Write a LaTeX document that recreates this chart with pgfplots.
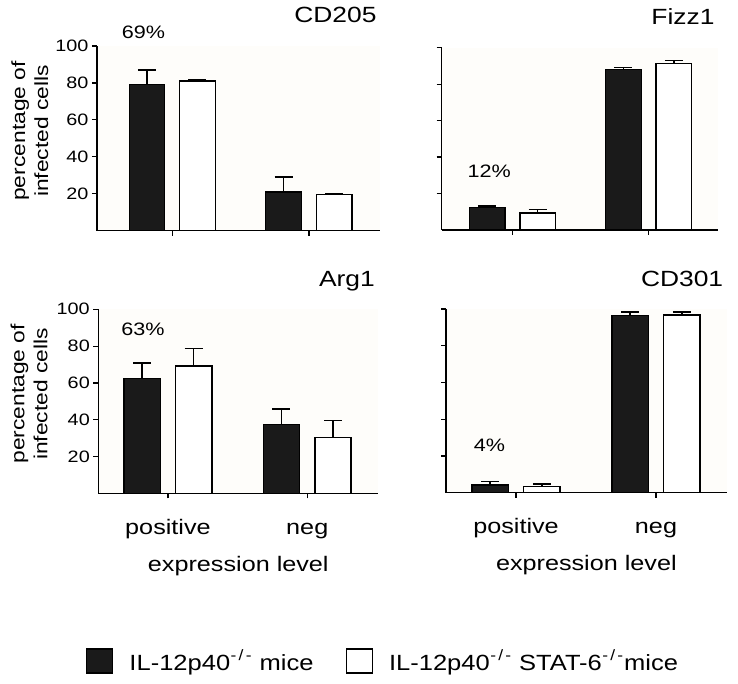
\documentclass[border=0pt]{standalone}
\usepackage{pgfplots}
\pgfplotsset{compat=1.18}
\usepackage{fontspec}
\setmainfont[FakeStretch=1.2]{Liberation Sans}
\newfontfamily\legfont[FakeStretch=1.16]{Liberation Sans}
\definecolor{barblack}{HTML}{1A1A1A}
\definecolor{panelbg}{HTML}{FEFDFA}
\newcommand{\ko}{\raisebox{0.42em}{\fontsize{15}{15}\selectfont\kern0.5pt-\kern2.2pt/\kern2.2pt-\kern1pt}}

\pgfplotsset{
  panel/.style={
    scale only axis,
    axis x line*=bottom, axis y line*=left,
    axis line style={line width=1.5pt},
    ymin=0, ymax=100,
    ytick={20,40,60,80,100},
    xtick={0,1},
    tick align=outside,
    major tick length=5pt,
    tick style={line width=1.2pt, black},
    /pgf/number format/assume math mode=true,
    yticklabel style={font=\fontsize{16.5}{18}\selectfont},
    xticklabel style={font=\fontsize{21}{24}\selectfont, anchor=base, yshift=-36pt},
    title style={at={(axis description cs:1,1)}, anchor=base east, yshift=17pt,
      font=\fontsize{22}{26}\selectfont},
    xlabel style={at={(axis description cs:0.5,0)}, anchor=base, yshift=-78pt,
      font=\fontsize{21}{24}\selectfont},
    ylabel style={anchor=center, align=center, font=\fontsize{19}{23}\selectfont},
    axis background/.style={fill=panelbg},
    clip=false,
    legend image code/.code={\draw[#1,line width=1.5pt] (0pt,-12pt) rectangle (26pt,12pt);},
  },
  blackbar/.style={ybar, bar width=0.26, bar shift=0pt, fill=barblack, draw=black,
    line width=1.2pt,
    error bars/.cd, y dir=plus, y explicit,
    error bar style={line width=1.5pt, black},
    error mark options={rotate=90, mark size=9pt, line width=1.5pt, black}},
  whitebar/.style={ybar, bar width=0.26, bar shift=0pt, fill=white, draw=black,
    line width=1.5pt,
    error bars/.cd, y dir=plus, y explicit,
    error bar style={line width=1.5pt, black},
    error mark options={rotate=90, mark size=9pt, line width=1.5pt, black}},
}

\begin{document}
\begin{tikzpicture}
\useasboundingbox (0pt,0pt) rectangle (738pt,683pt);

% CD205
\begin{axis}[panel, at={(97pt,452.3pt)}, anchor=south west,
  width=283pt, height=184.7pt, xmin=-0.55, xmax=1.52,
  xticklabels={,}, title={CD205},
  ylabel={percentage of\\infected cells},
  ylabel style={at={(axis description cs:-0.237,0.54)}}]
\addplot[blackbar] coordinates {(-0.185,79.2) +- (0,7.8) (0.815,21.0) +- (0,8.0)};
\addplot[whitebar] coordinates {(0.185,81.0) +- (0,0.6) (1.185,19.6) +- (0,0.6)};
\node[font=\fontsize{18}{20}\selectfont] at (axis cs:-0.21,107.3) {69\%};
\end{axis}

% Fizz1
\begin{axis}[panel, at={(441.7pt,453pt)}, anchor=south west,
  width=276.3pt, height=182.3pt, xmin=-0.52, xmax=1.51,
  xticklabels={,}, yticklabel=\empty, title={Fizz1}]
\addplot[blackbar] coordinates {(-0.185,12.4) +- (0,0.9) (0.815,88.2) +- (0,0.8)};
\addplot[whitebar] coordinates {(0.185,9.3) +- (0,2.0) (1.185,91.2) +- (0,1.8)};
\node[font=\fontsize{18}{20}\selectfont] at (axis cs:-0.17,32.2) {12\%};
\end{axis}

% Arg1
\begin{axis}[panel, at={(98.3pt,189.7pt)}, anchor=south west,
  width=280pt, height=184pt, xmin=-0.50, xmax=1.51,
  xticklabels={positive,neg}, xlabel={expression level}, title={Arg1},
  ylabel={percentage of\\infected cells},
  ylabel style={at={(axis description cs:-0.2475,0.54)}},
  legend style={at={(axis description cs:1.017,-0.911)}, anchor=center,
    draw=none, fill=none, legend columns=2,
    font=\legfont\fontsize{22}{26}\selectfont,
    /tikz/every odd column/.append style={column sep=14pt},
    /tikz/every even column/.append style={column sep=30pt}}]
\addplot[blackbar] coordinates {(-0.185,62.5) +- (0,8.2) (0.815,37.5) +- (0,8.3)};
\addlegendentry{IL-12p40\ko{} mice}
\addplot[whitebar] coordinates {(0.185,69.3) +- (0,9.5) (1.185,30.2) +- (0,9.3)};
\addlegendentry{IL-12p40\ko{} STAT-6\ko{}mice}
\node[font=\fontsize{18}{20}\selectfont] at (axis cs:-0.18,89) {63\%};
\end{axis}

% CD301
\begin{axis}[panel, at={(446pt,190.3pt)}, anchor=south west,
  width=280.7pt, height=183.7pt, xmin=-0.50, xmax=1.505,
  xticklabels={positive,neg}, xlabel={expression level},
  yticklabel=\empty, title={CD301}]
\addplot[blackbar] coordinates {(-0.185,4.2) +- (0,1.8) (0.815,96.4) +- (0,2.0)};
\addplot[whitebar] coordinates {(0.185,3.3) +- (0,1.4) (1.185,96.7) +- (0,1.7)};
\node[font=\fontsize{18}{20}\selectfont] at (axis cs:-0.19,26) {4\%};
\end{axis}
\end{tikzpicture}
\end{document}
